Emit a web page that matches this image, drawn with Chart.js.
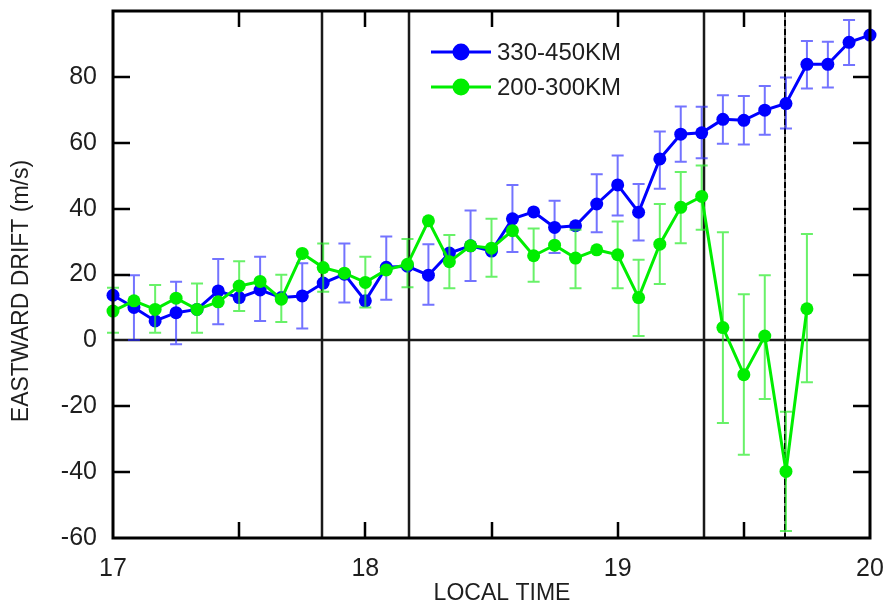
<!DOCTYPE html>
<html>
<head>
<meta charset="utf-8">
<script src="https://cdn.jsdelivr.net/npm/chart.js@4.4.1/dist/chart.umd.min.js"></script>
<style>
  html, body { margin: 0; padding: 0; background: #fff; }
  #driftChart { display: block; }
</style>
</head>
<body>
<canvas id="driftChart" width="890" height="609"></canvas>
<script>
// local time, hours (5 minute bins)
const localTime = [17.0, 17.083, 17.167, 17.25, 17.333, 17.417, 17.5, 17.583, 17.667, 17.75,
  17.833, 17.917, 18.0, 18.083, 18.167, 18.25, 18.333, 18.417, 18.5, 18.583,
  18.667, 18.75, 18.833, 18.917, 19.0, 19.083, 19.167, 19.25, 19.333, 19.417,
  19.5, 19.583, 19.667, 19.75, 19.833, 19.917, 20.0];

// 330-450KM
const upperDrift = [13.7, 10, 5.9, 8.4, 9.4, 15, 13, 15.3, 13, 13.5,
  17.4, 20.1, 12, 22.2, 22.5, 19.8, 26.5, 28.7, 27.1, 36.9,
  39, 34.3, 34.8, 41.4, 47.2, 38.9, 55.1, 62.6, 63, 67.1,
  66.8, 69.9, 71.9, 83.8, 83.8, 90.5, 92.7];
const upperLow = [null, 0.1, null, -1.2, null, 4.9, null, 5.9, null, 3.6,
  null, 11.5, null, 12.3, null, 10.8, null, 18, null, 26.8,
  null, 26.5, null, 32.8, 37.9, 30.3, 46, 54.2, 55.3, 59.7,
  59.5, 62.4, 64.3, 76.5, 76.8, 83.6, null];
const upperHigh = [null, 19.8, null, 17.8, null, 24.7, null, 25.4, null, 23.4,
  null, 29.4, null, 31.5, null, 29.2, null, 39.4, null, 47.2,
  null, 42.4, null, 50.4, 56.1, 47.5, 63.4, 71, 70.9, 74.4,
  74.2, 77.2, 79.8, 90.9, 90.7, 97.3, null];

// 200-300KM
const lowerDrift = [8.9, 12, 9.4, 12.8, 9.4, 11.7, 16.5, 17.9, 12.5, 26.4,
  22.1, 20.4, 17.6, 21.4, 23.1, 36.3, 23.9, 28.7, 28, 33.3,
  25.7, 28.9, 25, 27.5, 26, 13, 29.2, 40.4, 43.7, 3.9,
  -10.4, 1.3, -39.8, 9.6];
const lowerLow = [2.3, null, 2.3, null, 2.3, null, 8.9, null, 5.6, null,
  14.8, null, 10, null, 16.1, null, 15.8, null, 19.3, null,
  17.8, null, 15.8, null, 15.8, 1.3, 17.1, 29.5, 33.6, -25.1,
  -34.7, -17.8, -57.9, -12.7];
const lowerHigh = [16, null, 16.8, null, 17.3, null, 24, null, 19.9, null,
  29.4, null, 25.4, null, 30.8, null, 32, null, 36.9, null,
  34, null, 33.6, null, 36.1, 24.5, 41.4, 51.1, 53.1, 32.8,
  14, 19.8, -21.7, 32.3];

const markerTimes = [17.83, 18.175, 19.342];
const dashedMarker = 19.665;
const xMinorTicks = [17.5, 18, 18.5, 19, 19.5];
const yTickValues = [-40, -20, 20, 40, 60, 80];

const BLUE = '#0000ff';
const GREEN = '#00ee00';
const FONT = '"Liberation Sans", Arial, Helvetica, sans-serif';
const TEXT = '#1e1e1e';

function toPoints(values) {
  return values.map((v, i) => ({ x: localTime[i], y: v }));
}

const errorBars = {
  id: 'errorBars',
  beforeDatasetDraw(chart, args) {
    const ds = chart.data.datasets[args.index];
    if (!ds.errLow) return;
    const { ctx } = chart;
    const xs = chart.scales.x, ys = chart.scales.y;
    ctx.save();
    ctx.strokeStyle = ds.errColor;
    ctx.lineWidth = 2;
    ds.errLow.forEach((lo, i) => {
      const hi = ds.errHigh[i];
      if (lo === null || hi === null) return;
      const px = xs.getPixelForValue(localTime[i]);
      const y1 = ys.getPixelForValue(lo), y2 = ys.getPixelForValue(hi);
      ctx.beginPath();
      ctx.moveTo(px, y1); ctx.lineTo(px, y2);
      ctx.moveTo(px - 6, y1); ctx.lineTo(px + 6, y1);
      ctx.moveTo(px - 6, y2); ctx.lineTo(px + 6, y2);
      ctx.stroke();
    });
    ctx.restore();
  }
};

const referenceLines = {
  id: 'referenceLines',
  beforeDatasetsDraw(chart) {
    const { ctx, chartArea: a } = chart;
    const xs = chart.scales.x, ys = chart.scales.y;
    ctx.save();
    ctx.strokeStyle = '#1a1a1a';
    ctx.lineWidth = 2.5;
    markerTimes.forEach(t => {
      const px = Math.round(xs.getPixelForValue(t));
      ctx.beginPath(); ctx.moveTo(px, a.top); ctx.lineTo(px, a.bottom); ctx.stroke();
    });
    const dx = Math.round(xs.getPixelForValue(dashedMarker));
    ctx.strokeStyle = '#777';
    ctx.lineWidth = 2;
    ctx.beginPath(); ctx.moveTo(dx, a.top); ctx.lineTo(dx, a.bottom); ctx.stroke();
    ctx.strokeStyle = '#000';
    ctx.setLineDash([6, 3]);
    ctx.beginPath(); ctx.moveTo(dx, a.top); ctx.lineTo(dx, a.bottom); ctx.stroke();
    ctx.setLineDash([]);
    const zy = Math.round(ys.getPixelForValue(0));
    ctx.strokeStyle = '#1a1a1a';
    ctx.lineWidth = 2.5;
    ctx.beginPath(); ctx.moveTo(a.left, zy); ctx.lineTo(a.right, zy); ctx.stroke();
    ctx.restore();
  }
};

const frameAndLabels = {
  id: 'frameAndLabels',
  afterDraw(chart) {
    const { ctx, chartArea: a } = chart;
    const xs = chart.scales.x, ys = chart.scales.y;
    ctx.save();
    ctx.strokeStyle = '#000';
    ctx.lineWidth = 3;
    ctx.strokeRect(a.left, a.top, a.right - a.left, a.bottom - a.top);
    // inward ticks
    ctx.lineWidth = 2.5;
    ctx.beginPath();
    xMinorTicks.forEach(t => {
      const px = Math.round(xs.getPixelForValue(t));
      ctx.moveTo(px, a.bottom); ctx.lineTo(px, a.bottom - 16);
      ctx.moveTo(px, a.top); ctx.lineTo(px, a.top + 16);
    });
    yTickValues.forEach(v => {
      const py = Math.round(ys.getPixelForValue(v));
      ctx.moveTo(a.left, py); ctx.lineTo(a.left + 17, py);
      ctx.moveTo(a.right, py); ctx.lineTo(a.right - 17, py);
    });
    ctx.stroke();

    // legend
    const legend = [
      { label: '330-450KM', color: BLUE, y: 52 },
      { label: '200-300KM', color: GREEN, y: 87 }
    ];
    legend.forEach(item => {
      ctx.strokeStyle = item.color;
      ctx.lineWidth = 3;
      ctx.beginPath(); ctx.moveTo(431, item.y); ctx.lineTo(491, item.y); ctx.stroke();
      ctx.fillStyle = item.color;
      ctx.beginPath(); ctx.arc(461, item.y, 8.5, 0, Math.PI * 2); ctx.fill();
      ctx.fillStyle = TEXT;
      ctx.font = '24px ' + FONT;
      ctx.textBaseline = 'middle';
      ctx.textAlign = 'left';
      ctx.fillText(item.label, 497, item.y + 1);
    });

    // axis titles
    ctx.fillStyle = TEXT;
    ctx.font = '23px ' + FONT;
    ctx.textAlign = 'center';
    ctx.textBaseline = 'middle';
    ctx.fillText('LOCAL TIME', 502, 594);
    ctx.translate(22, 291);
    ctx.rotate(-Math.PI / 2);
    ctx.fillText('EASTWARD DRIFT (m/s)', 0, 0);
    ctx.restore();
  }
};

new Chart(document.getElementById('driftChart'), {
  type: 'line',
  data: {
    datasets: [
      {
        label: '330-450KM',
        data: toPoints(upperDrift),
        errLow: upperLow, errHigh: upperHigh,
        errColor: 'rgba(40,40,255,0.65)',
        borderColor: BLUE, backgroundColor: BLUE,
        borderWidth: 3, pointRadius: 6.5, pointBorderWidth: 0,
        tension: 0, clip: false, order: 1
      },
      {
        label: '200-300KM',
        data: toPoints(lowerDrift),
        errLow: lowerLow, errHigh: lowerHigh,
        errColor: 'rgba(40,235,40,0.7)',
        borderColor: GREEN, backgroundColor: GREEN,
        borderWidth: 3, pointRadius: 6.5, pointBorderWidth: 0,
        tension: 0, clip: false, order: 0
      }
    ]
  },
  options: {
    responsive: false,
    animation: false,
    events: [],
    layout: { padding: { top: 11, right: 20, left: 0, bottom: 0 } },
    plugins: { legend: { display: false }, tooltip: { enabled: false } },
    scales: {
      x: {
        type: 'linear', min: 17, max: 20,
        grid: { display: false, drawTicks: false },
        border: { display: false },
        ticks: {
          stepSize: 1, autoSkip: false, padding: 16, maxRotation: 0,
          color: TEXT, font: { family: FONT, size: 25 },
          callback: v => Number.isInteger(v) ? String(v) : ''
        },
        afterFit: s => { s.height = 71; s.paddingLeft = 0; s.paddingRight = 0; }
      },
      y: {
        min: -60, max: 100,
        grid: { display: false, drawTicks: false },
        border: { display: false },
        ticks: {
          stepSize: 20, padding: 16,
          color: TEXT, font: { family: FONT, size: 25 },
          callback: v => v === 100 ? '' : String(v)
        },
        afterFit: s => { s.width = 113; s.paddingTop = 0; s.paddingBottom = 0; }
      }
    }
  },
  plugins: [referenceLines, errorBars, frameAndLabels]
});
</script>
</body>
</html>
